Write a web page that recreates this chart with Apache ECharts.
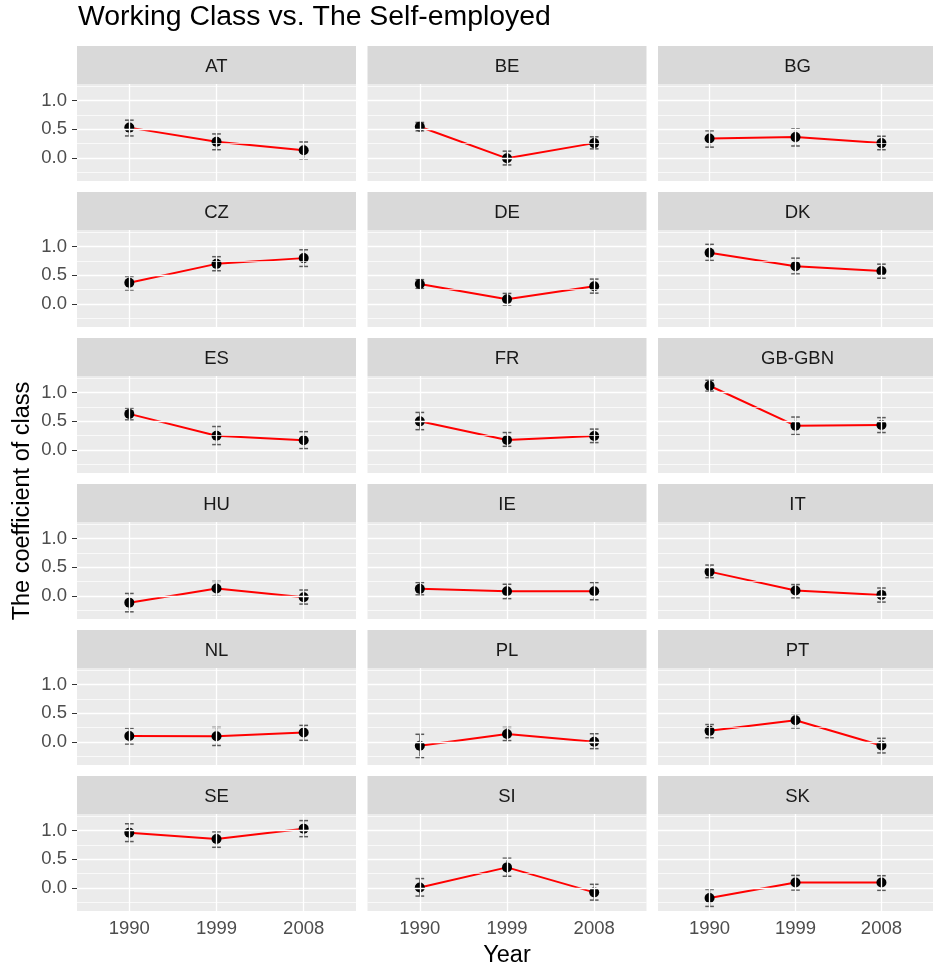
<!DOCTYPE html>
<html>
<head>
<meta charset="utf-8">
<script src="https://cdn.jsdelivr.net/npm/echarts@6/dist/echarts.min.js"></script>
<style>html,body{margin:0;padding:0;background:#fff}#c{width:933px;height:971px}</style>
</head>
<body>
<div id="c"></div>
<script>
const countries = ['AT','BE','BG','CZ','DE','DK','ES','FR','GB-GBN','HU','IE','IT','NL','PL','PT','SE','SI','SK'];
const years = ['1990','1999','2008'];
const yTicks = [0, 0.5, 1.0];
const yMinor = [-0.25, 0.25, 0.75, 1.25];
// estimates per country (1990, 1999, 2008)
const coef = [
  [0.53, 0.285, 0.135],
  [0.545, -0.005, 0.26],
  [0.34, 0.365, 0.26],
  [0.37, 0.70, 0.80],
  [0.35, 0.085, 0.31],
  [0.895, 0.66, 0.575],
  [0.63, 0.25, 0.17],
  [0.50, 0.175, 0.245],
  [1.12, 0.425, 0.435],
  [-0.115, 0.13, -0.02],
  [0.125, 0.085, 0.085],
  [0.425, 0.095, 0.02],
  [0.105, 0.10, 0.165],
  [-0.065, 0.14, 0.005],
  [0.195, 0.38, -0.06],
  [0.965, 0.855, 1.035],
  [0.01, 0.36, -0.075],
  [-0.175, 0.095, 0.095]
];
const lower = [
  [0.385, 0.145, -0.015],
  [0.475, -0.12, 0.16],
  [0.19, 0.21, 0.145],
  [0.245, 0.58, 0.655],
  [0.27, -0.02, 0.19],
  [0.76, 0.525, 0.45],
  [0.525, 0.095, 0.025],
  [0.355, 0.065, 0.13],
  [1.025, 0.27, 0.305],
  [-0.275, -0.005, -0.14],
  [0.02, -0.045, -0.065],
  [0.32, -0.03, -0.105],
  [-0.035, -0.06, 0.03],
  [-0.27, 0.025, -0.115],
  [0.075, 0.245, -0.19],
  [0.81, 0.71, 0.895],
  [-0.14, 0.205, -0.21],
  [-0.32, -0.035, -0.04]
];
const upper = [
  [0.66, 0.42, 0.28],
  [0.62, 0.12, 0.37],
  [0.475, 0.51, 0.38],
  [0.48, 0.825, 0.945],
  [0.425, 0.185, 0.435],
  [1.04, 0.80, 0.695],
  [0.73, 0.41, 0.32],
  [0.655, 0.305, 0.365],
  [1.215, 0.575, 0.565],
  [0.045, 0.255, 0.105],
  [0.235, 0.205, 0.235],
  [0.54, 0.2, 0.14],
  [0.24, 0.255, 0.29],
  [0.135, 0.255, 0.145],
  [0.305, 0.495, 0.065],
  [1.12, 0.98, 1.175],
  [0.165, 0.52, 0.065],
  [-0.025, 0.22, 0.215]
];

const FONT = "'Liberation Sans', Arial, sans-serif";
const colLeft = [77, 367.5, 658];
const panelW = 279, panelH = 97, stripH = 38, rowStep = 146, firstStrip = 46;
const nCols = 3, nRows = 6;

const option = {
  animation: false,
  backgroundColor: '#ffffff',
  grid: [], xAxis: [], yAxis: [], series: [], graphic: []
};

option.graphic.push({
  type: 'text', left: 78, top: 3,
  style: { text: 'Working Class vs. The Self-employed', font: '28.4px ' + FONT, fill: '#000000' }
});
option.graphic.push({
  type: 'text', x: 23, y: 501, rotation: Math.PI / 2,
  style: { text: 'The coefficient of class', font: '23.5px ' + FONT, fill: '#000000', align: 'center', verticalAlign: 'middle' }
});
option.graphic.push({
  type: 'text', x: 507, y: 956, 
  style: { text: 'Year', font: '23.5px ' + FONT, fill: '#000000', align: 'center', verticalAlign: 'middle' }
});

countries.forEach((name, i) => {
  const r = Math.floor(i / nCols), c = i % nCols;
  const stripTop = firstStrip + r * rowStep;
  const panelTop = stripTop + stripH;
  const left = colLeft[c];
  option.graphic.push({
    type: 'rect', shape: { x: left, y: stripTop, width: panelW, height: stripH },
    style: { fill: '#D9D9D9' }, silent: true, z: -1
  });
  option.graphic.push({
    type: 'text', x: left + panelW / 2, y: stripTop + stripH / 2 + 1.5,
    style: { text: name, font: '18.5px ' + FONT, fill: '#1A1A1A', align: 'center', verticalAlign: 'middle' }
  });
  option.grid.push({
    left: left, top: panelTop, width: panelW, height: panelH,
    show: true, backgroundColor: '#EBEBEB', borderWidth: 0, containLabel: false
  });
  const bottom = r === nRows - 1;
  option.xAxis.push({
    type: 'value', gridIndex: i, min: 0.4, max: 3.6,
    axisLine: { show: false },
    splitLine: { show: false },
    axisTick: { show: bottom, customValues: [1, 2, 3], length: 5, lineStyle: { color: '#333333', width: 1 } },
    axisLabel: { show: bottom, customValues: [1, 2, 3], margin: 8, color: '#4D4D4D', fontSize: 18.5, fontFamily: FONT,
      formatter: v => years[Math.round(v) - 1] }
  });
  const leftCol = c === 0;
  option.yAxis.push({
    type: 'value', gridIndex: i, min: -0.4, max: 1.29,
    axisLine: { show: false },
    splitLine: { show: false },
    axisTick: { show: leftCol, customValues: yTicks, length: 5, lineStyle: { color: '#333333', width: 1 } },
    axisLabel: { show: leftCol, customValues: yTicks, margin: 10, color: '#4D4D4D', fontSize: 18.5, fontFamily: FONT,
      formatter: v => v.toFixed(1) }
  });
  // gridlines
  const ml = [];
  [1, 2, 3].forEach(v => ml.push({ xAxis: v, lineStyle: { width: 1.3 } }));
  yTicks.forEach(v => ml.push({ yAxis: v, lineStyle: { width: 1.3 } }));
  yMinor.forEach(v => ml.push({ yAxis: v, lineStyle: { width: 0.7 } }));
  option.series.push({
    type: 'line', xAxisIndex: i, yAxisIndex: i, data: [[1, 0]], showSymbol: false, silent: true,
    lineStyle: { opacity: 0 }, z: 1,
    markLine: { silent: true, symbol: ['none', 'none'], label: { show: false },
      lineStyle: { color: '#FFFFFF', type: 'solid' }, data: ml, animation: false }
  });
  option.series.push({
    type: 'line', xAxisIndex: i, yAxisIndex: i, z: 2,
    data: coef[i].map((v, k) => [k + 1, v]),
    showSymbol: false, lineStyle: { color: '#FF0000', width: 2 }, silent: true
  });
  option.series.push({
    type: 'custom', xAxisIndex: i, yAxisIndex: i, z: 3, silent: true,
    data: coef[i].map((v, k) => [k + 1, lower[i][k], upper[i][k]]),
    encode: { x: 0, y: [1, 2] },
    renderItem: (params, api) => {
      const x = api.value(0);
      const lo = api.coord([x, api.value(1)]);
      const hi = api.coord([x, api.value(2)]);
      const hw = api.size([0.1, 0])[0] / 2;
      const st = { stroke: '#595959', lineWidth: 1.5, fill: null };
      return { type: 'group', children: [
        { type: 'line', shape: { x1: lo[0], y1: lo[1], x2: hi[0], y2: hi[1] }, style: st },
        { type: 'line', shape: { x1: lo[0] - hw, y1: lo[1], x2: lo[0] + hw, y2: lo[1] }, style: st },
        { type: 'line', shape: { x1: hi[0] - hw, y1: hi[1], x2: hi[0] + hw, y2: hi[1] }, style: st }
      ]};
    }
  });
  option.series.push({
    type: 'scatter', xAxisIndex: i, yAxisIndex: i, z: 4, silent: true,
    data: coef[i].map((v, k) => [k + 1, v]),
    symbol: 'circle', symbolSize: 10, itemStyle: { color: '#000000', opacity: 1 }
  });
});

const chart = echarts.init(document.getElementById('c'), null, { renderer: 'canvas' });
chart.setOption(option);
</script>
</body>
</html>
